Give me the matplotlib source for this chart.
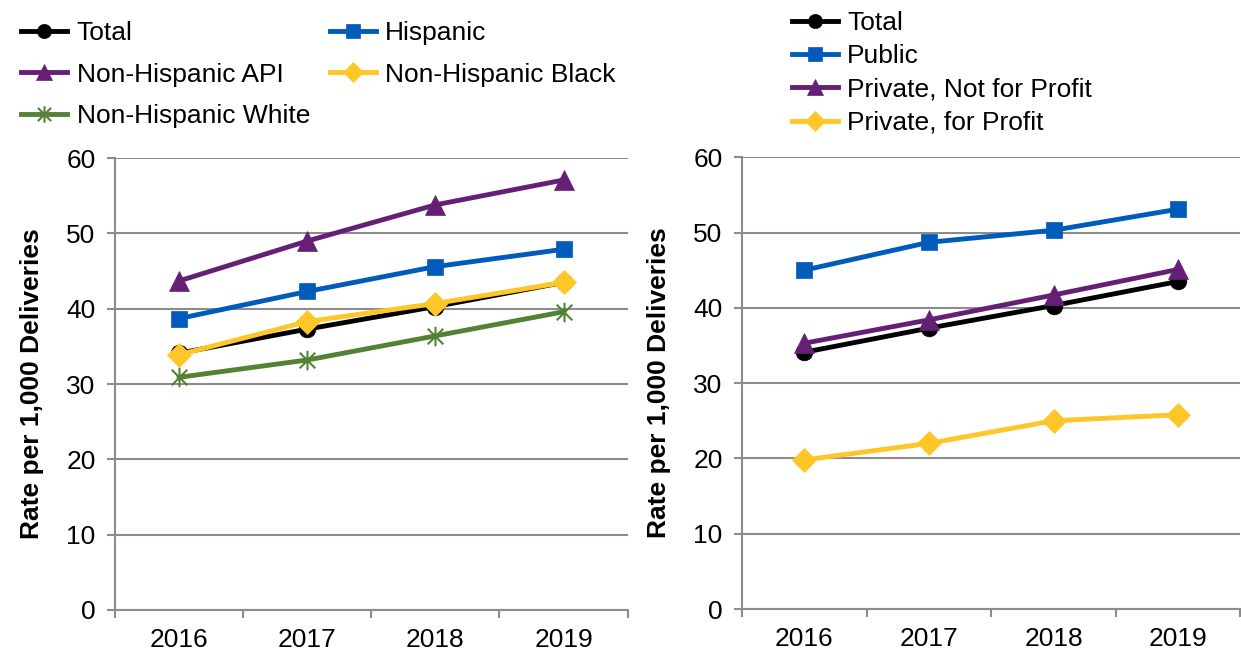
import matplotlib.pyplot as plt
from matplotlib.path import Path

plt.rcParams['font.family'] = ['Liberation Sans', 'DejaVu Sans']

years = ["2016", "2017", "2018", "2019"]

# left panel: race / ethnicity
total = [34.1, 37.3, 40.3, 43.5]
hispanic = [38.7, 42.3, 45.6, 47.9]
nh_api = [43.7, 49.0, 53.8, 57.1]
nh_black = [33.9, 38.3, 40.7, 43.5]
nh_white = [30.9, 33.2, 36.4, 39.6]

# right panel: hospital ownership
public = [45.0, 48.7, 50.3, 53.1]
private_nfp = [35.3, 38.4, 41.7, 45.1]
private_fp = [19.8, 22.0, 25.0, 25.8]

BLACK = "#000000"
BLUE = "#005BBB"
PURPLE = "#652075"
GOLD = "#FFC627"
GREEN = "#538135"
GRID = "#8C8C8C"
FS = 19

# excel-style asterisk: vertical bar plus an x
star = Path([(0, -1), (0, 1), (-0.8, -0.8), (0.8, 0.8), (-0.8, 0.8), (0.8, -0.8)],
            [Path.MOVETO, Path.LINETO, Path.MOVETO, Path.LINETO, Path.MOVETO, Path.LINETO])

fig = plt.figure(figsize=(12.41, 6.51), dpi=100)
ax1 = fig.add_axes([0.0927, 0.063, 0.413, 0.694])
ax2 = fig.add_axes([0.598, 0.0645, 0.4015, 0.694])

x = range(len(years))
lw = 3.5

left_series = [
    ("Total", total, BLACK, "o", 12),
    ("Hispanic", hispanic, BLUE, "s", 12),
    ("Non-Hispanic API", nh_api, PURPLE, "^", 14),
    ("Non-Hispanic Black", nh_black, GOLD, "D", 12),
    ("Non-Hispanic White", nh_white, GREEN, star, 14),
]
right_series = [
    ("Total", total, BLACK, "o", 12),
    ("Public", public, BLUE, "s", 12),
    ("Private, Not for Profit", private_nfp, PURPLE, "^", 14),
    ("Private, for Profit", private_fp, GOLD, "D", 12),
]

for ax, series in [(ax1, left_series), (ax2, right_series)]:
    for label, vals, color, mk, ms in series:
        ax.plot(x, vals, color=color, lw=lw, marker=mk, markersize=ms,
                markeredgewidth=1.5 if mk is star else 0.5,
                markeredgecolor=color, label=label, zorder=3)
    ax.set_xlim(-0.5, 3.5)
    ax.set_ylim(0, 60)
    ax.set_yticks(range(0, 61, 10))
    ax.set_xticks([i - 0.5 for i in range(5)], minor=False)
    ax.set_xticklabels([])
    ax.set_xticks(list(x), minor=True)
    ax.set_xticklabels(years, minor=True)
    ax.tick_params(axis="x", which="major", length=6, color=GRID, width=1.5, direction="out")
    ax.tick_params(axis="x", which="minor", length=0, labelsize=FS, pad=13)
    ax.tick_params(axis="y", length=6, color=GRID, width=1.5, labelsize=FS, pad=8)
    ax.grid(axis="y", color=GRID, lw=1.5)
    ax.set_axisbelow(True)
    for s in ["top", "right"]:
        ax.spines[s].set_visible(False)
    for s in ["left", "bottom"]:
        ax.spines[s].set_color(GRID)
        ax.spines[s].set_linewidth(1.5)
    ax.set_ylabel("Rate per 1,000 Deliveries", fontsize=FS, fontweight="bold", labelpad=16)

# row-major order like the original: Total, Hispanic / API, Black / White
h, l = ax1.get_legend_handles_labels()
order = [0, 2, 4, 1, 3]
fig.legend([h[i] for i in order], [l[i] for i in order],
           loc="upper left", bbox_to_anchor=(0.017, 0.967), ncol=2, frameon=False,
           fontsize=FS, handlelength=1.75, handletextpad=0.35, columnspacing=0.75,
           labelspacing=0.65, borderaxespad=0, borderpad=0, markerscale=0.85)
h, l = ax2.get_legend_handles_labels()
fig.legend(h, l, loc="upper left", bbox_to_anchor=(0.638, 0.983), ncol=1, frameon=False,
           fontsize=FS, handlelength=1.75, handletextpad=0.35,
           labelspacing=0.35, borderaxespad=0, borderpad=0, markerscale=0.85)

fig.savefig("out.png", dpi=100)
